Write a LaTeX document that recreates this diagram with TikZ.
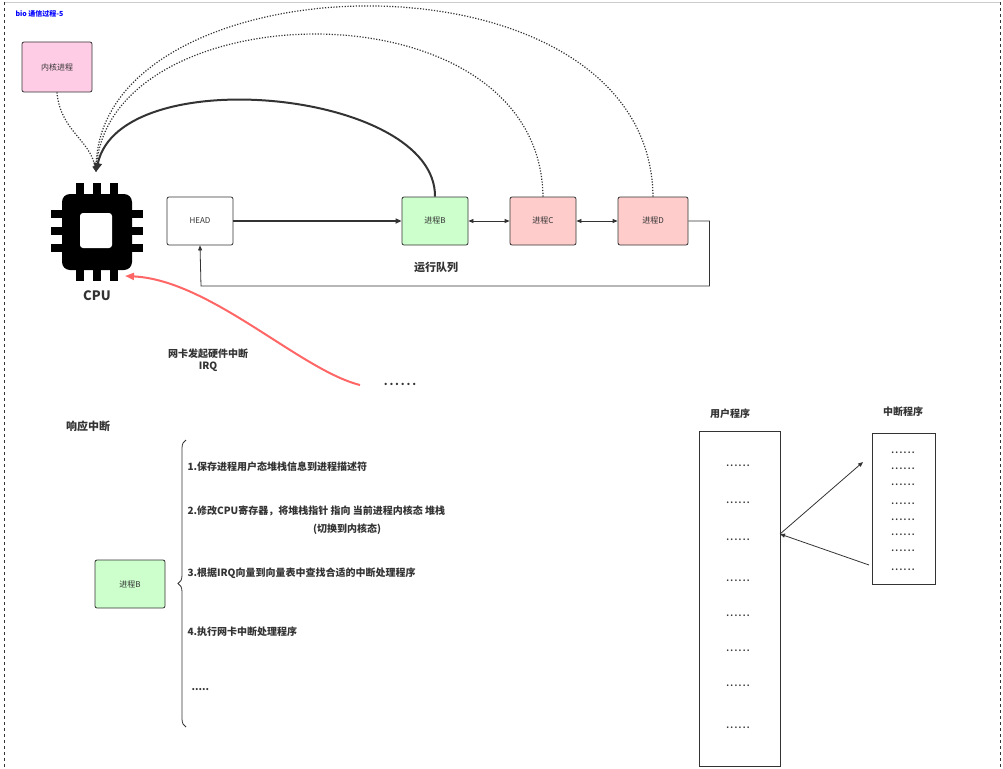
\documentclass[tikz,border=0pt]{standalone}
\usepackage{fontspec}
\setmainfont{Noto Sans CJK SC}
\usetikzlibrary{arrows.meta,positioning,decorations.pathreplacing}
\definecolor{kpink}{RGB}{255,204,230}
\definecolor{pgreen}{RGB}{204,255,204}
\definecolor{pred}{RGB}{255,204,204}
\definecolor{irqred}{RGB}{255,102,102}
\definecolor{edge}{RGB}{51,51,51}
\begin{document}
\begin{tikzpicture}[x=1pt,y=-1pt,
	  every node/.style={align=center,text=edge},
	  proc/.style={draw=edge,thick,rounded corners=2pt,minimum width=66pt,minimum height=48pt,font=\fontsize{8}{9}\selectfont},
	  lbl/.style={font=\bfseries\fontsize{11}{13}\selectfont},
	  stepitem/.style={font=\bfseries\fontsize{10}{12}\selectfont,anchor=west},
	  dots/.style={font=\bfseries\fontsize{8}{8}\selectfont},
	  to/.style={-{Triangle[length=5pt,width=4pt]},draw=edge,thick},
	  twoway/.style={{Triangle[length=5pt,width=4pt]}-{Triangle[length=5pt,width=4pt]},draw=edge,thick},
	  dot/.style={-{Triangle[length=6pt,width=5pt]},draw=edge,line width=1.2pt,dash pattern=on 1.2pt off 1.6pt}]

	  \useasboundingbox (0,0) rectangle (1003,768);
	  \draw[gray!40] (4,2) -- (1000,2);
	  \draw[edge,dashed] (4,2) -- (4,768) (1000,2) -- (1000,768);
	  \node[anchor=west,text=blue,font=\bfseries\fontsize{7}{8}\selectfont] (title) at (12,14) {bio 通信过程-5};

	  % CPU icon
	  \fill[black,rounded corners=8pt] (62,194) rectangle (132,270);
	  \foreach \p in {80,97,114} {
	    \fill[black] (\p-4,183) rectangle (\p+4,195);
	    \fill[black] (\p-4,269) rectangle (\p+4,281);
	  }
	  \foreach \p in {214,231,248} {
	    \fill[black] (51,\p-4) rectangle (63,\p+4);
	    \fill[black] (131,\p-4) rectangle (143,\p+4);
	  }
	  \fill[white,rounded corners=3pt] (80,213) rectangle (112,248);
	  \coordinate (cpu) at (96,172);
	  \coordinate (cpuside) at (125,276);
	  \node[lbl,font=\bfseries\fontsize{13}{15}\selectfont] (cpulabel) at (97,296) {CPU};

	  % run queue
	  \node[proc,fill=kpink,minimum width=70pt,minimum height=50pt] (kernel) at (57,67) {内核进程};
	  \node[proc] (head) at (200,221) {HEAD};
	  \node[proc,fill=pgreen] (pb) at (435,221) {进程B};
	  \node[proc,fill=pred] (pc) at (543,221) {进程C};
	  \node[proc,fill=pred,minimum width=70pt] (pd) at (653,221) {进程D};
	  \node[lbl] (queue) at (436,267) {运行队列};

	  \draw[-{Triangle[length=6pt,width=5pt]},draw=edge,line width=1.5pt] (head) -- (pb);
	  \draw[twoway] (pb) -- (pc);
	  \draw[twoway] (pc) -- (pd);
	  \draw[to] (pd.east) -- ++(21,0) |- (201,286) -- (head.south);

	  \draw[-{Triangle[length=9pt,width=8pt]},draw=edge,line width=2pt] (pb.north) .. controls (436,90) and (120,60) .. (cpu);
	  \draw[dot] (pc.north) .. controls (540,-20) and (110,-10) .. (cpu);
	  \draw[dot] (pd.north) .. controls (650,-60) and (100,-45) .. (cpu);
	  \draw[dot] (kernel.south) .. controls (60,130) and (90,140) .. (cpu);

	  % interrupt
	  \node[dots,font=\bfseries\fontsize{11}{11}\selectfont] (more) at (400,384) {.\,.\,.\,.\,.\,.};
	  \draw[-{Triangle[length=9pt,width=7pt]},draw=irqred,line width=2pt] (360,385) .. controls (300,370) and (210,280) .. (cpuside);
	  \node[lbl,font=\bfseries\fontsize{10}{12}\selectfont] (irq) at (208,360) {网卡发起硬件中断\\IRQ};

	  % response
	  \node[lbl] (resp) at (88,426) {响应中断};
	  \node[proc,fill=pgreen,minimum width=70pt] (pb2) at (130,584) {进程B};
	  \draw[decorate,decoration={brace,amplitude=8pt,mirror},draw=edge,thick] (186,440) -- (186,727);
	  \node[stepitem] (s1) at (184,467) {1.保存进程用户态堆栈信息到进程描述符};
	  \node[stepitem] (s2) at (184,511) {2.修改CPU寄存器，将堆栈指针 指向 当前进程内核态 堆栈};
	  \node[stepitem,anchor=center] (s2b) at (347,529) {(切换到内核态)};
	  \node[stepitem] (s3) at (184,573) {3.根据IRQ向量到向量表中查找合适的中断处理程序};
	  \node[stepitem] (s4) at (184,632) {4.执行网卡中断处理程序};
	  \node[stepitem] (s5) at (188,690) {.....};

	  % programs
	  \node[lbl,font=\bfseries\fontsize{10}{12}\selectfont] (user) at (730,414) {用户程序};
	  \node[draw=edge,thick,minimum width=81pt,minimum height=335pt] (userbox) at (739.5,598.5) {};
	  \foreach \y in {466,503,540,581,616,651,686,728}
	    \node[dots] at (738,\y) {.\,.\,.\,.\,.\,.};
	  \node[lbl,font=\bfseries\fontsize{10}{12}\selectfont] (isr) at (903,412) {中断程序};
	  \node[draw=edge,thick,minimum width=63pt,minimum height=151pt] (isrbox) at (903.5,508.5) {};
	  \foreach \y in {453,469,485,504,520,535,551,570}
	    \node[dots] at (903,\y) {.\,.\,.\,.\,.\,.};
	  \coordinate (call) at (780,534);
	  \draw[to] (call) -- (863,462);
	  \draw[to] (869,565) -- (call);

\end{tikzpicture}
\end{document}
